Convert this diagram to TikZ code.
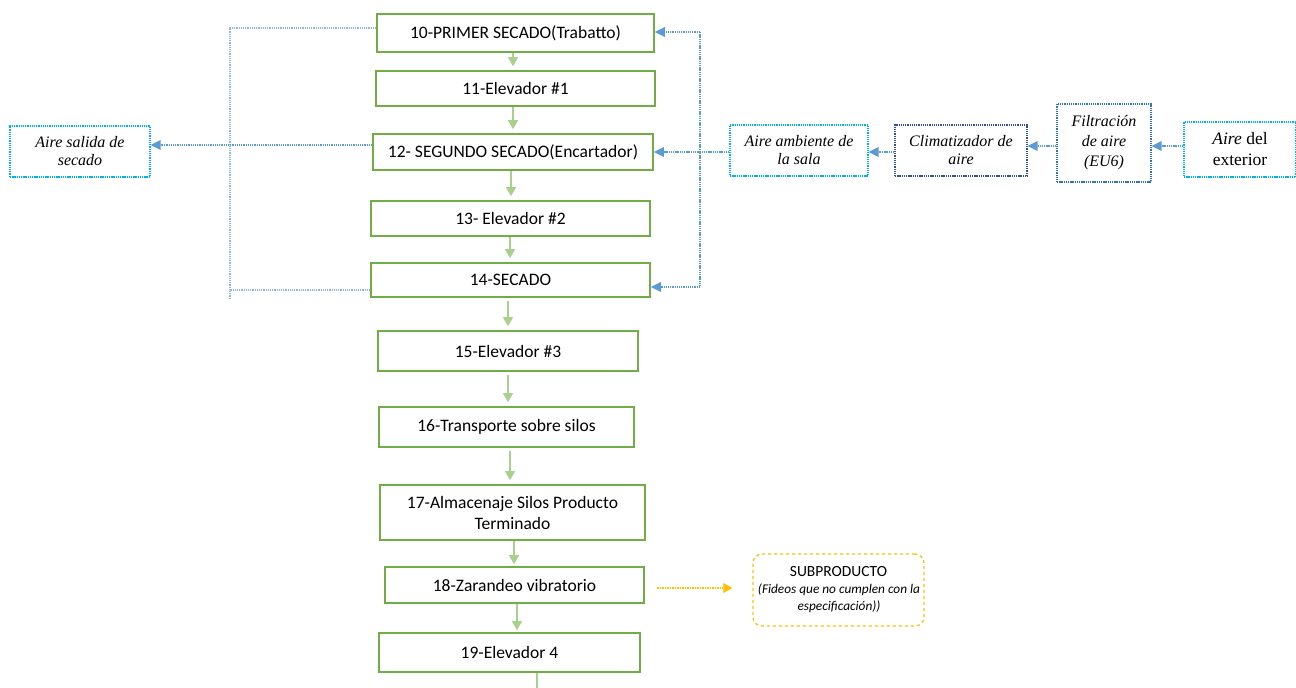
\documentclass[tikz,border=0pt]{standalone}
\usepackage{fontspec}
\setmainfont{Liberation Serif}
\newfontfamily\calfont{Carlito}
\usetikzlibrary{arrows.meta,calc}
\definecolor{gbox}{RGB}{112,173,71}
\definecolor{garr}{RGB}{169,209,142}
\definecolor{lblue}{RGB}{140,185,228}
\definecolor{mblue}{RGB}{91,155,213}
\definecolor{cyanb}{RGB}{0,176,240}
\definecolor{dblue}{RGB}{46,84,150}
\definecolor{fblue}{RGB}{46,117,182}
\definecolor{orng}{RGB}{255,192,0}
\tikzset{
  proc/.style={draw=gbox, line width=1.6pt, inner sep=0pt, align=center, font=\calfont\fontsize{17.5}{21}\selectfont},
  garrow/.style={draw=garr, line width=1.2pt, -{Triangle[width=10pt,length=9pt]}, garr, shorten >=4pt},
  bbox/.style={line width=1.3pt, dash pattern=on 1.3pt off 0.9pt, inner sep=0pt, align=center, font=\itshape\fontsize{16}{18}\selectfont},
  bline/.style={draw=lblue, line width=1.2pt, dash pattern=on 1.3pt off 0.9pt},
  barrow/.style={draw=mblue, line width=1.2pt, dash pattern=on 1.3pt off 0.9pt, -{Triangle[width=10pt,length=10pt,fill=mblue,line width=0pt]}},
}
\begin{document}
\begin{tikzpicture}[x=1pt,y=-1pt]
\useasboundingbox (0,0) rectangle (1296,688);
% process boxes
\node[proc, minimum width=277pt, minimum height=38pt] (n10) at (515.5,33) {10-PRIMER SECADO(Trabatto)};
\node[proc, minimum width=279pt, minimum height=35pt] (n11) at (515.5,88.5) {11-Elevador \#1};
\node[proc, minimum width=280pt, minimum height=36pt] (n12) at (513,152) {12- SEGUNDO SECADO(Encartador)};
\node[proc, minimum width=279pt, minimum height=35pt] (n13) at (510.5,218.5) {13- Elevador \#2};
\node[proc, minimum width=279pt, minimum height=34pt] (n14) at (510.5,280) {14-SECADO};
\node[proc, minimum width=260pt, minimum height=40pt] (n15) at (508,351) {15-Elevador \#3};
\node[proc, minimum width=255pt, minimum height=40pt] (n16) at (506.5,427) {16-Transporte sobre silos};
\node[proc, minimum width=265pt, minimum height=55pt] (n17) at (512.5,512.5) {17-Almacenaje Silos Producto\\Terminado};
\node[proc, minimum width=259pt, minimum height=36pt] (n18) at (514.5,585) {18-Zarandeo vibratorio};
\node[proc, minimum width=261pt, minimum height=39pt] (n19) at (509.5,652.5) {19-Elevador 4};
\coordinate (out19) at (537,688);
% green arrows
\draw[garrow] (n10.south -| 513,0) -- (n11.north -| 513,0);
\draw[garrow] (n11.south -| 513,0) -- (n12.north -| 513,0);
\draw[garrow] (n12.south -| 511,0) -- (n13.north -| 511,0);
\draw[garrow] (n13.south -| 510,0) -- (n14.north -| 510,0);
\draw[garrow, shorten <=3pt] (n14.south -| 508,0) -- (n15.north -| 508,0);
\draw[garrow, shorten <=3pt] (n15.south -| 508,0) -- (n16.north -| 508,0);
\draw[garrow, shorten <=3pt] (n16.south -| 510,0) -- (n17.north -| 510,0);
\draw[garrow, shorten >=2pt] (n17.south -| 514,0) -- (n18.north -| 514,0);
\draw[garrow, shorten >=2pt] (n18.south -| 517,0) -- (n19.north -| 517,0);
\draw[draw=garr, line width=1.2pt] (n19.south -| out19) -- (out19);
% air boxes
\node[bbox, draw=cyanb, minimum width=140pt, minimum height=51pt] (salida) at (80,151.5) {Aire salida de\\secado};
\node[bbox, draw=cyanb, minimum width=138pt, minimum height=51pt] (amb) at (799,150.5) {Aire ambiente de\\la sala};
\node[bbox, draw=dblue, minimum width=132pt, minimum height=51pt] (clim) at (961,150.5) {Climatizador de\\aire};
\node[bbox, draw=fblue, minimum width=94pt, minimum height=78pt, font=\itshape\fontsize{16}{20}\selectfont] (filt) at (1104,143) {Filtración\\de aire\\(EU6)};
\node[bbox, draw=cyanb, minimum width=112pt, minimum height=55pt, font=\fontsize{17.5}{21}\selectfont] (ext) at (1240,149.5) {\textit{Aire} del\\exterior};
% left air lines
\coordinate (L1) at (230,28);
\coordinate (L2) at (230,298);
\draw[bline] (n10.west |- L1) -- (L1) -- (L2);
\draw[bline] (n14.west |- 0,290) -- (230,290);
\draw[barrow] (n12.west |- 0,145) -- (salida.east |- 0,145);
% right air lines
\coordinate (R1) at (700,32);
\coordinate (R2) at (700,287);
\draw[bline, draw=mblue] (R1) -- (R2);
\draw[barrow] (R1) -- (n10.east |- R1);
\draw[barrow] (R2) -- (n14.east |- R2);
\draw[barrow] (amb.west |- 0,152) -- (n12.east |- 0,152);
\draw[barrow] (clim.west |- 0,152) -- (amb.east |- 0,152);
\draw[barrow] (filt.west |- 0,146) -- (clim.east |- 0,146);
\draw[barrow] (ext.west |- 0,146) -- (filt.east |- 0,146);
% subproducto
\node[draw=orng, line width=1.3pt, dashed, rounded corners=9pt, minimum width=171pt, minimum height=72pt] (sub) at (838.5,590) {};
\node[font=\calfont\fontsize{15.5}{18}\selectfont, anchor=center] (subt) at (838.5,572) {SUBPRODUCTO};
\node[font=\calfont\itshape\fontsize{13.3}{17}\selectfont, align=center, anchor=north] (subd) at (839,580) {(Fideos que no cumplen con la\\especificación))};
\coordinate (o1) at (657,588);
\draw[draw=orng, line width=1.2pt, dash pattern=on 1.5pt off 1pt, -{Triangle[width=10pt,length=9pt,fill=orng,line width=0pt]}] (o1) -- ([xshift=-20pt]sub.west |- o1);
\end{tikzpicture}
\end{document}
